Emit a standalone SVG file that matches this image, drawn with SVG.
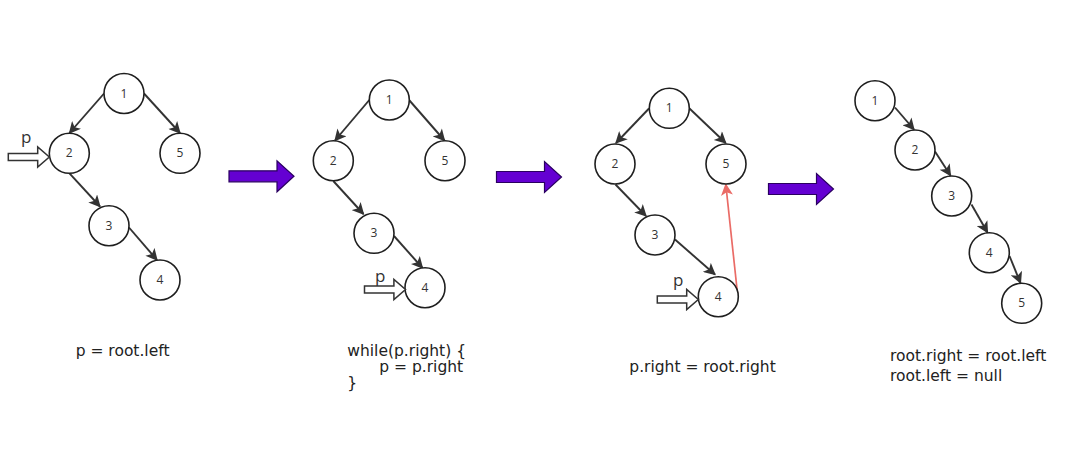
<svg xmlns="http://www.w3.org/2000/svg" xmlns:xlink="http://www.w3.org/1999/xlink" width="1075" height="454" viewBox="0 0 1075 454">
<style>
.node circle{fill:#fff;stroke:#1f1f1f;stroke-width:1.6}
.node text{font-family:"Open Sans","DejaVu Sans",sans-serif;font-size:12px;fill:#333;text-anchor:middle}
.edge{stroke:#333;stroke-width:1.9;fill:none;marker-end:url(#ah)}
.red{stroke:#EA6B66;stroke-width:1.7;fill:none;marker-end:url(#ahr)}
.big{fill:#6400D2;stroke:#2a0060;stroke-width:1.2}
.parr{fill:#fff;stroke:#333;stroke-width:1.5}
.plabel{font-family:"Open Sans","DejaVu Sans",sans-serif;font-size:17px;fill:#333}
.code{font-family:"DejaVu Sans",sans-serif;font-size:15.5px;fill:#222}
</style>
<defs>
<marker id="ah" viewBox="0 0 10 10" refX="9" refY="5" markerWidth="13" markerHeight="12" markerUnits="userSpaceOnUse" orient="auto">
<path d="M0,0 L10,5 L0,10 L2.5,5 Z" fill="#333"/>
</marker>
<marker id="ahr" viewBox="0 0 10 10" refX="9" refY="5" markerWidth="13" markerHeight="12" markerUnits="userSpaceOnUse" orient="auto">
<path d="M0,0 L10,5 L0,10 L2.5,5 Z" fill="#EA6B66"/>
</marker>
<path id="bigArrow" d="M0,-5.5 H48 V-15.5 L65,0 L48,15.5 V5.5 H0 Z"/>
<path id="pArrow" d="M0,-3.4 H29.4 V-10 L41,0 L29.4,10 V3.4 H0 Z"/>
</defs>

<g id="connectors">
<!-- panel 1 -->
<path class="edge" d="M104,93.5 L69.5,133"/>
<path class="edge" d="M144,93.5 L180,133"/>
<path class="edge" d="M69.5,173.3 L100,206.5"/>
<path class="edge" d="M129,227.5 L157,260"/>
<!-- panel 2 -->
<path class="edge" d="M369.3,100 L335,140.5"/>
<path class="edge" d="M409.5,100.5 L444.5,140.5"/>
<path class="edge" d="M333.3,181 L363.5,214"/>
<path class="edge" d="M394,236 L422.5,268"/>
<!-- panel 3 -->
<path class="edge" d="M649,108.5 L616,143"/>
<path class="edge" d="M689.5,108.5 L725.7,143"/>
<path class="edge" d="M615.5,184.5 L646,216"/>
<path class="edge" d="M675,239.5 L715,274.5"/>
<path class="red" d="M737.5,293.5 L725.8,184.5"/>
<!-- panel 4 -->
<path class="edge" d="M895,107.5 L914,129.5"/>
<path class="edge" d="M935,151.5 L950.5,175.5"/>
<path class="edge" d="M971.5,204.5 L987.5,232.5"/>
<path class="edge" d="M1009.5,256 L1020.5,283"/>
</g>

<g id="panel1">
<g id="p1-n1" class="node"><circle cx="124" cy="93.5" r="20"/><text x="124" y="97.5">1</text></g>
<g id="p1-n2" class="node"><circle cx="69.3" cy="153.3" r="20"/><text x="69.3" y="157.3">2</text></g>
<g id="p1-n5" class="node"><circle cx="180" cy="153.3" r="20"/><text x="180" y="157.3">5</text></g>
<g id="p1-n3" class="node"><circle cx="109" cy="225.7" r="20"/><text x="109" y="229.7">3</text></g>
<g id="p1-n4" class="node"><circle cx="160" cy="280" r="20"/><text x="160" y="284">4</text></g>
<g id="p1-p"><use xlink:href="#pArrow" class="parr" transform="translate(8.3,157)"/><text class="plabel" x="21" y="143">p</text></g>
</g>

<g id="panel2">
<g id="p2-n1" class="node"><circle cx="389.3" cy="100" r="20"/><text x="389.3" y="104">1</text></g>
<g id="p2-n2" class="node"><circle cx="333.3" cy="160.7" r="20"/><text x="333.3" y="164.7">2</text></g>
<g id="p2-n5" class="node"><circle cx="445" cy="160.7" r="20"/><text x="445" y="164.7">5</text></g>
<g id="p2-n3" class="node"><circle cx="374" cy="233.3" r="20"/><text x="374" y="237.3">3</text></g>
<g id="p2-n4" class="node"><circle cx="425" cy="287.7" r="20"/><text x="425" y="291.7">4</text></g>
<g id="p2-p"><use xlink:href="#pArrow" class="parr" transform="translate(364.5,289.5)"/><text class="plabel" x="375" y="282">p</text></g>
</g>

<g id="panel3">
<g id="p3-n1" class="node"><circle cx="669.3" cy="108.3" r="20"/><text x="669.3" y="112.3">1</text></g>
<g id="p3-n2" class="node"><circle cx="615" cy="164" r="20"/><text x="615" y="168">2</text></g>
<g id="p3-n5" class="node"><circle cx="726" cy="164" r="20"/><text x="726" y="168">5</text></g>
<g id="p3-n3" class="node"><circle cx="655" cy="235" r="20"/><text x="655" y="239">3</text></g>
<g id="p3-n4" class="node"><circle cx="718.3" cy="296.7" r="20"/><text x="718.3" y="300.7">4</text></g>
<g id="p3-p"><use xlink:href="#pArrow" class="parr" transform="translate(657.3,299.5)"/><text class="plabel" x="673" y="286">p</text></g>
</g>

<g id="panel4">
<g id="p4-n1" class="node"><circle cx="875" cy="100.7" r="20"/><text x="875" y="104.7">1</text></g>
<g id="p4-n2" class="node"><circle cx="915" cy="150" r="20"/><text x="915" y="154">2</text></g>
<g id="p4-n3" class="node"><circle cx="951.7" cy="196" r="20"/><text x="951.7" y="200">3</text></g>
<g id="p4-n4" class="node"><circle cx="989.3" cy="252.7" r="20"/><text x="989.3" y="256.7">4</text></g>
<g id="p4-n5" class="node"><circle cx="1021.7" cy="303.3" r="20"/><text x="1021.7" y="307.3">5</text></g>
</g>

<g id="step-arrows">
<use xlink:href="#bigArrow" class="big" transform="translate(229,176.3)"/>
<use xlink:href="#bigArrow" class="big" transform="translate(496.5,177)"/>
<use xlink:href="#bigArrow" class="big" transform="translate(768.5,189)"/>
</g>

<g id="captions">
<text class="code" x="75.7" y="356">p = root.left</text>
<text class="code" x="347.3" y="355.7">while(p.right) {</text>
<text class="code" x="379.3" y="371.7">p = p.right</text>
<text class="code" x="347.3" y="387.5">}</text>
<text class="code" x="629.3" y="371.5">p.right = root.right</text>
<text class="code" x="890" y="360.7">root.right = root.left</text>
<text class="code" x="890" y="381">root.left = null</text>
</g>
</svg>
